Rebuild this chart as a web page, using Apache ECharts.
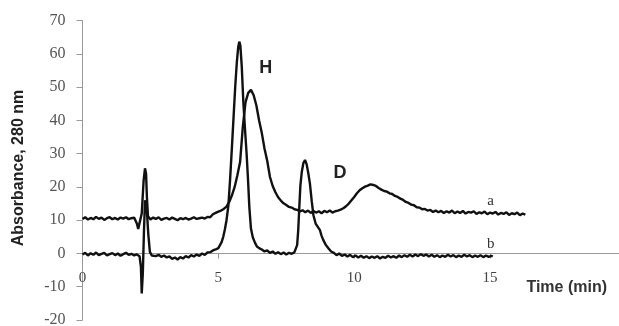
<!DOCTYPE html>
<html>
<head>
<meta charset="utf-8">
<script src="https://cdn.jsdelivr.net/npm/echarts@6/dist/echarts.min.js"></script>
<style>
html,body{margin:0;padding:0;background:#fff;}
#chart{width:619px;height:326px;}
</style>
</head>
<body>
<div id="chart"></div>
<script>
// Axis definitions
const xTicks = [0, 5, 10, 15];
const yTicks = [-20, -10, 0, 10, 20, 30, 40, 50, 60, 70];

// Trace a: [time (min), absorbance]
const traceA = [
[0.0,10.4],[0.1,10.9],[0.2,10.2],[0.3,10.7],[0.4,10.3],[0.5,11.0],[0.6,10.4],[0.7,10.8],[0.8,10.1],[0.9,10.6],
[1.0,10.9],[1.1,10.3],[1.2,10.7],[1.3,10.2],[1.4,10.8],[1.5,10.5],[1.6,10.9],[1.7,10.3],[1.8,10.6],[1.9,10.8],
[1.95,10.6],[2.0,9.0],[2.05,7.4],[2.12,7.0],[2.18,12.0],[2.25,22.0],[2.3,25.6],[2.34,24.0],[2.37,17.0],[2.41,11.2],[2.45,10.6],
[2.5,10.2],[2.6,10.8],[2.7,10.4],[2.8,10.9],[2.9,10.1],[3.0,10.5],[3.1,10.7],[3.2,10.2],[3.3,10.8],[3.4,10.4],
[3.5,10.0],[3.6,10.6],[3.7,10.3],[3.8,10.7],[3.9,10.2],[4.0,10.5],[4.1,10.9],[4.2,10.4],[4.3,10.6],[4.4,10.8],
[4.5,10.5],[4.6,11.0],[4.7,10.9],[4.8,11.8],[4.9,12.2],[5.0,12.6],[5.1,12.9],[5.2,13.4],[5.3,14.1],[5.4,15.5],
[5.5,17.5],[5.6,20.0],[5.7,23.5],[5.8,27.5],[5.9,38.0],[6.0,45.5],[6.1,48.3],[6.2,49.2],[6.3,47.6],[6.4,44.5],
[6.5,40.0],[6.6,36.2],[6.7,31.5],[6.8,27.8],[6.9,23.0],[7.0,20.3],[7.1,18.4],[7.2,16.9],[7.3,15.9],[7.4,15.1],
[7.5,14.6],[7.6,14.0],[7.7,13.8],[7.8,13.3],[7.9,13.1],[8.0,12.7],[8.1,13.0],[8.2,12.4],[8.3,12.9],[8.4,12.2],
[8.5,12.8],[8.6,12.3],[8.7,12.7],[8.8,12.1],[8.9,12.8],[9.0,12.4],[9.1,12.9],[9.2,12.3],[9.3,12.7],[9.4,12.9],
[9.5,13.2],[9.6,13.6],[9.7,14.2],[9.8,15.0],[9.9,16.0],[10.0,17.0],[10.1,18.1],[10.2,19.0],[10.3,19.6],[10.4,20.1],
[10.5,20.4],[10.6,20.8],[10.7,20.6],[10.8,20.3],[10.9,19.7],[11.0,19.2],[11.1,18.8],[11.2,18.6],[11.3,18.1],[11.4,17.9],
[11.5,17.3],[11.6,17.0],[11.7,16.5],[11.8,16.1],[11.9,15.5],[12.0,15.2],[12.1,14.7],[12.2,14.5],[12.3,13.9],[12.4,13.8],
[12.5,13.3],[12.6,13.4],[12.7,12.9],[12.8,13.1],[12.9,12.5],[13.0,12.9],[13.1,12.4],[13.2,12.8],[13.3,12.2],[13.4,12.7],
[13.5,12.3],[13.6,12.9],[13.7,12.1],[13.8,12.6],[13.9,12.2],[14.0,12.8],[14.1,12.0],[14.2,12.5],[14.3,12.3],[14.4,12.7],
[14.5,11.9],[14.6,12.4],[14.7,12.1],[14.8,12.6],[14.9,11.8],[15.0,12.3],[15.1,12.0],[15.2,12.5],[15.3,11.7],[15.4,12.2],
[15.5,11.9],[15.6,12.4],[15.7,11.6],[15.8,12.1],[15.9,11.8],[16.0,12.3],[16.1,11.5],[16.2,12.0],[16.3,11.7]
];

// Trace b: [time (min), absorbance]
const traceB = [
[0.0,-0.3],[0.1,0.2],[0.2,-0.6],[0.3,0.1],[0.4,-0.4],[0.5,0.3],[0.6,-0.5],[0.7,-0.1],[0.8,0.2],[0.9,-0.6],
[1.0,-0.2],[1.1,0.1],[1.2,-0.5],[1.3,0.0],[1.4,-0.7],[1.5,-0.2],[1.6,0.2],[1.7,-0.4],[1.8,-0.1],[1.9,-0.6],[2.0,-0.3],
[2.1,-0.8],[2.15,-4.0],[2.18,-12.0],[2.22,-6.0],[2.26,6.0],[2.3,16.0],[2.36,14.0],[2.42,6.0],[2.48,0.5],[2.55,-0.6],
[2.6,-0.2],[2.7,-0.8],[2.8,-0.4],[2.9,-1.0],[3.0,-0.6],[3.1,-1.2],[3.2,-0.9],[3.3,-1.6],[3.4,-1.2],[3.5,-1.8],
[3.6,-1.1],[3.7,-1.5],[3.8,-0.8],[3.9,-1.2],[4.0,-0.5],[4.1,-0.9],[4.2,-0.3],[4.3,-0.7],[4.4,0.0],[4.5,-0.4],
[4.6,0.3],[4.7,0.4],[4.8,0.9],[4.9,1.2],[5.0,1.6],[5.06,2.2],[5.12,3.4],[5.18,5.0],[5.24,7.2],[5.3,10.0],
[5.37,14.5],[5.43,22.0],[5.5,32.0],[5.56,41.0],[5.62,50.0],[5.68,57.5],[5.73,62.0],[5.77,63.7],[5.81,62.5],[5.86,56.5],
[5.92,45.5],[5.98,37.5],[6.04,30.0],[6.09,22.5],[6.14,14.0],[6.2,7.5],[6.27,4.8],[6.35,3.2],[6.42,2.1],[6.5,1.6],
[6.6,1.2],[6.7,0.6],[6.8,0.9],[6.9,0.2],[7.0,0.6],[7.1,-0.1],[7.2,0.4],[7.3,-0.2],[7.4,0.3],[7.5,-0.3],
[7.6,0.2],[7.7,-0.1],[7.8,0.4],[7.85,0.6],[7.9,2.5],[7.94,7.0],[7.98,14.0],[8.02,20.5],[8.07,24.5],[8.13,27.2],
[8.19,28.1],[8.25,26.8],[8.31,24.2],[8.37,21.0],[8.44,15.5],[8.5,11.5],[8.58,9.0],[8.66,8.0],[8.74,7.0],[8.8,5.3],
[8.86,4.1],[8.95,2.6],[9.05,1.6],[9.15,0.6],[9.25,0.2],[9.35,-0.5],[9.45,0.0],[9.55,-0.7],[9.65,-0.3],[9.75,-0.9],
[9.85,-0.4],[9.95,-1.1],[10.05,-0.6],[10.15,-1.2],[10.25,-0.7],[10.35,-1.3],[10.45,-0.8],[10.55,-1.4],[10.65,-0.9],[10.75,-1.3],
[10.85,-0.8],[10.95,-1.5],[11.05,-1.0],[11.15,-1.3],[11.25,-0.7],[11.35,-1.2],[11.45,-0.8],[11.55,-1.3],[11.65,-0.6],[11.75,-1.1],
[11.85,-0.5],[11.95,-1.0],[12.05,-0.4],[12.15,-0.9],[12.25,-0.3],[12.35,-0.8],[12.45,-0.2],[12.55,-0.7],[12.65,-0.3],[12.75,-0.9],
[12.85,-0.4],[12.95,-1.0],[13.05,-0.5],[13.15,-1.1],[13.25,-0.6],[13.35,-1.0],[13.45,-0.4],[13.55,-0.9],[13.65,-0.5],[13.75,-1.1],
[13.85,-0.6],[13.95,-1.0],[14.05,-0.4],[14.15,-0.9],[14.25,-0.5],[14.35,-1.1],[14.45,-0.6],[14.55,-1.0],[14.65,-0.5],[14.75,-1.1],
[14.85,-0.6],[14.95,-1.0],[15.05,-0.7],[15.1,-0.9]
];

const gridTop = 20.7, gridHeight = 299.3, yMin = -20, yMax = 70;
// offset that places the x axis (drawn at the bottom) onto the y = 0 line
const xAxisOffset = -gridHeight * (0 - yMin) / (yMax - yMin);

const chart = echarts.init(document.getElementById('chart'), null, {renderer: 'canvas'});
const axisGray = '#9a9a9a';
chart.setOption({
  animation: false,
  backgroundColor: '#ffffff',
  grid: {left: 82.5, top: gridTop, width: 543.4, height: gridHeight, containLabel: false, outerBoundsMode: 'none'},
  xAxis: {
    type: 'value', min: 0, max: 20, interval: 5, position: 'bottom', offset: xAxisOffset,
    axisLine: {show: true, onZero: false, lineStyle: {color: axisGray, width: 1}},
    axisTick: {show: true, inside: false, length: 5, lineStyle: {color: axisGray}},
    axisLabel: {
      show: true, margin: 17, color: '#444', fontFamily: 'Liberation Serif', fontSize: 15,
      hideOverlap: false,
      formatter: v => xTicks.indexOf(v) >= 0 ? String(v) : ''
    },
    splitLine: {show: false}
  },
  yAxis: {
    type: 'value', min: yMin, max: yMax, interval: 10,
    axisLine: {show: true, onZero: false, lineStyle: {color: axisGray, width: 1}},
    axisTick: {show: true, inside: false, length: 6, lineStyle: {color: axisGray}},
    axisLabel: {
      margin: 17, color: '#555', fontFamily: 'Liberation Serif', fontSize: 16,
      formatter: v => yTicks.indexOf(v) >= 0 ? String(v) : ''
    },
    splitLine: {show: false}
  },
  series: [
    {type: 'line', data: traceA, showSymbol: false, symbol: 'none', sampling: null,
     lineStyle: {color: '#111', width: 2.4}, z: 3},
    {type: 'line', data: traceB, showSymbol: false, symbol: 'none', sampling: null,
     lineStyle: {color: '#111', width: 2.4}, z: 3}
  ],
  graphic: [
    {type: 'text', x: 19, y: 168, rotation: Math.PI / 2,
     style: {text: 'Absorbance, 280 nm', font: 'bold 16px "Liberation Sans"', fill: '#222', textAlign: 'center', textVerticalAlign: 'middle'}},
    {type: 'text', x: 566.7, y: 287.5,
     style: {text: 'Time (min)', font: 'bold 16px "Liberation Sans"', fill: '#333', textAlign: 'center', textVerticalAlign: 'middle'}},
    {type: 'text', x: 265.7, y: 68.3,
     style: {text: 'H', font: 'bold 18px "Liberation Sans"', fill: '#222', textAlign: 'center', textVerticalAlign: 'middle'}},
    {type: 'text', x: 340, y: 173.3,
     style: {text: 'D', font: 'bold 18px "Liberation Sans"', fill: '#222', textAlign: 'center', textVerticalAlign: 'middle'}},
    {type: 'text', x: 490.7, y: 200.7,
     style: {text: 'a', font: '15px "Liberation Serif"', fill: '#333', textAlign: 'center', textVerticalAlign: 'middle'}},
    {type: 'text', x: 490.7, y: 244,
     style: {text: 'b', font: '15px "Liberation Serif"', fill: '#333', textAlign: 'center', textVerticalAlign: 'middle'}}
  ]
});
</script>
</body>
</html>
